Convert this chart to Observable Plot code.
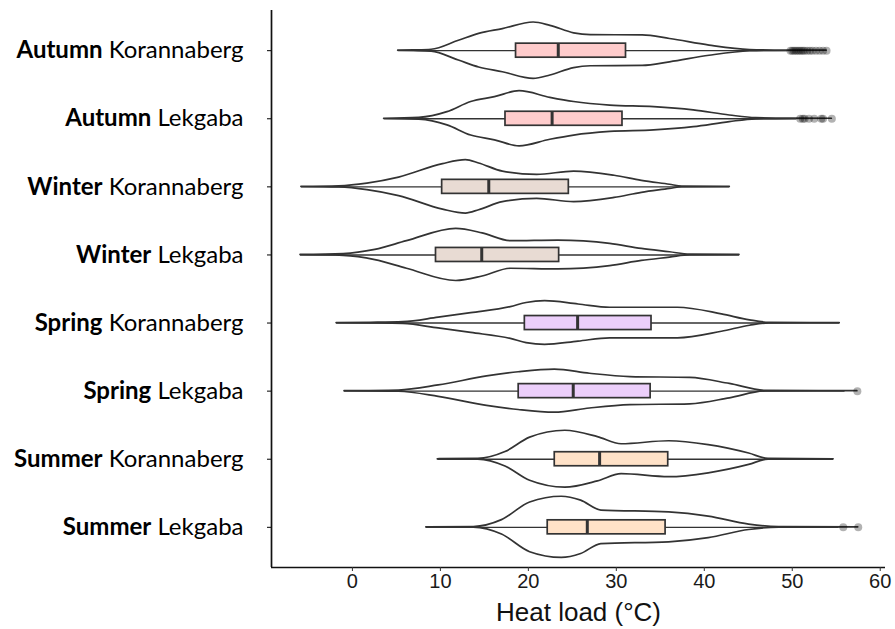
<!DOCTYPE html>
<html>
<head>
<meta charset="utf-8">
<script src="https://cdn.jsdelivr.net/npm/d3@7"></script>
<script src="https://cdn.jsdelivr.net/npm/@observablehq/plot@0.6"></script>
<style>
  html, body { margin: 0; padding: 0; background: #ffffff; }
  #chart svg { display: block; }
</style>
</head>
<body>
<div id="chart"></div>
<script>
// ---- Data ----
const seasons = ["Autumn", "Autumn", "Winter", "Winter", "Spring", "Spring", "Summer", "Summer"];
const sites = ["Korannaberg", "Lekgaba", "Korannaberg", "Lekgaba", "Korannaberg", "Lekgaba", "Korannaberg", "Lekgaba"];

const q1 =          [18.6, 17.4, 10.2,  9.5, 19.6, 18.9, 23.0, 22.2];
const medians =     [23.4, 22.7, 15.5, 14.7, 25.6, 25.1, 28.1, 26.7];
const q3 =          [31.1, 30.7, 24.6, 23.5, 34.0, 33.9, 35.9, 35.6];
const whiskerLow =  [ 5.2,  3.6, -5.8, -5.9, -1.8, -0.9,  9.7,  8.4];
const whiskerHigh = [49.5, 50.5, 42.9, 44.0, 55.4, 56.0, 54.7, 55.3];

const outliers = [
  [49.8, 50.0, 50.2, 50.4, 50.6, 50.8, 51.0, 51.2, 51.4, 51.7, 52.0, 52.3, 52.7, 53.1, 53.5, 53.9],
  [50.9, 51.2, 51.4, 51.9, 52.5, 53.3, 53.5, 54.5],
  [], [], [],
  [57.4],
  [],
  [55.8, 57.5]
];

// violin outlines: [heat load, relative half-width]
const violinAutumnKorannaberg = [[5.2,0],[7,0.01],[9,0.03],[12.1,0.33],[14.4,0.56],[17.1,0.72],[20.6,0.94],[22.5,0.83],[25.2,0.58],[27.1,0.52],[33,0.51],[36.1,0.39],[40.6,0.17],[45.2,0.02],[48,0.005],[53.9,0]];
const violinAutumnLekgaba = [[3.6,0],[7.6,0.03],[10.8,0.22],[13.5,0.56],[16.2,0.72],[19,0.92],[22.5,0.7],[25.2,0.56],[29.3,0.44],[34.3,0.39],[38.8,0.28],[42.9,0.11],[45.9,0.02],[50,0.003],[54.5,0]];
const violinWinterKorannaberg = [[-5.8,0],[-1.5,0.02],[1.7,0.11],[5.3,0.31],[10.3,0.76],[12.9,0.89],[14.4,0.78],[17.1,0.51],[21,0.4],[25.2,0.51],[29.8,0.37],[32.9,0.2],[36.1,0.07],[37.5,0.01],[42.9,0]];
const violinWinterLekgaba = [[-5.9,0],[-1,0.03],[2.6,0.17],[6.2,0.46],[11.8,0.87],[14.8,0.72],[18,0.46],[23.4,0.48],[29.3,0.37],[32.9,0.2],[36.1,0.09],[38.4,0.01],[44,0]];
const violinSpringKorannaberg = [[-1.8,0],[2.1,0.01],[5.8,0.03],[9.8,0.18],[13.5,0.33],[18,0.53],[19.8,0.67],[21.9,0.73],[25.7,0.62],[29.3,0.51],[37,0.51],[42,0.29],[45.2,0.09],[47.4,0.01],[55.4,0]];
const violinSpringLekgaba = [[-0.9,0],[5.3,0.02],[9.8,0.19],[15.3,0.49],[18.9,0.63],[23,0.72],[27,0.58],[31.6,0.47],[38.4,0.44],[42.9,0.24],[47,0.01],[57.4,0]];
const violinSummerKorannaberg = [[9.7,0],[14.3,0.01],[17.4,0.24],[20.2,0.72],[24.2,0.95],[27.9,0.74],[30.6,0.5],[36,0.6],[40.5,0.47],[45.1,0.19],[47.3,0.01],[54.7,0]];
const violinSummerLekgaba = [[8.4,0],[13.8,0.01],[17,0.24],[20.2,0.83],[23.8,1.02],[26,0.89],[28.3,0.56],[36,0.5],[40.5,0.36],[45.1,0.09],[48.5,0.01],[57.5,0]];

const violins = [violinAutumnKorannaberg, violinAutumnLekgaba, violinWinterKorannaberg, violinWinterLekgaba,
                 violinSpringKorannaberg, violinSpringLekgaba, violinSummerKorannaberg, violinSummerLekgaba];

const xTicks = [0, 10, 20, 30, 40, 50, 60];
const xLabel = "Heat load (°C)";
const seasonColors = {Autumn: "#FFCCCC", Winter: "#E8DBD3", Spring: "#ECCFFB", Summer: "#FFE2C8"};

// ---- Build tables ----
const rows = seasons.map((s, i) => ({
  i, season: s, site: sites[i],
  q1: q1[i], med: medians[i], q3: q3[i], lo: whiskerLow[i], hi: whiskerHigh[i]
}));
const violinData = violins.flatMap((pts, i) => pts.map(([v, w]) => ({i, v, w})));
const outlierData = outliers.flatMap((vals, i) => vals.map(v => ({i, v})));

const K = 0.44;       // violin half-width scale (row units)
const BOX = 0.103;    // box half-height (row units)
const XMIN = -9.2, XMAX = 60.6, YTOP = -0.59, YBOT = 7.59;
const ink = "#333333";

const plot = Plot.plot({
  width: 895,
  height: 629,
  marginLeft: 271,
  marginRight: 10,
  marginTop: 10,
  marginBottom: 62,
  style: {background: "#ffffff", fontFamily: "'Liberation Sans', Arial, sans-serif"},
  x: {domain: [XMIN, XMAX]},
  y: {domain: [YBOT, YTOP]},
  marks: [
    Plot.areaY(violinData, {
      x: "v", y1: d => d.i - d.w * K, y2: d => d.i + d.w * K, z: "i",
      curve: "monotone-x", fill: "#ffffff", stroke: ink, strokeWidth: 1.7
    }),
    Plot.ruleY(rows, {y: "i", x1: "lo", x2: "hi", stroke: ink, strokeWidth: 1.4}),
    Plot.rect(rows, {
      x1: "q1", x2: "q3", y1: d => d.i - BOX, y2: d => d.i + BOX,
      fill: d => seasonColors[d.season], stroke: ink, strokeWidth: 1.7
    }),
    Plot.ruleX(rows, {x: "med", y1: d => d.i - BOX, y2: d => d.i + BOX, stroke: ink, strokeWidth: 3}),
    Plot.dot(outlierData, {x: "v", y: "i", r: 4, fill: "#000000", fillOpacity: 0.3, stroke: "none"}),
    Plot.ruleX([XMIN], {stroke: "#111", strokeWidth: 1.7}),
    Plot.ruleY([YBOT], {stroke: "#111", strokeWidth: 1.7}),
    Plot.axisX({
      ticks: xTicks, tickSize: 4, tickPadding: 2, fontSize: 20, label: null,
      stroke: "#333", color: "#1a1a1a", tickFormat: d => String(d)
    }),
    Plot.axisY({
      ticks: d3.range(8), tickSize: 4, tickPadding: 24, label: null,
      tickFormat: i => seasons[i] + " " + sites[i]
    }),
    Plot.text([xLabel], {
      frameAnchor: "bottom", lineAnchor: "bottom", dy: 53, fontSize: 26, fill: "#111",
      fontFamily: "'Liberation Sans', Arial, sans-serif"
    })
  ]
});

document.getElementById("chart").appendChild(plot);

// Mixed-weight y tick labels: bold season + regular site
const svg = d3.select(plot);
svg.selectAll("g[aria-label='y-axis tick label'] text").each(function(d) {
  const t = d3.select(this);
  const idx = typeof d === "number" ? d : +d;
  t.text(null)
   .attr("font-family", "Lato, 'Open Sans', sans-serif")
   .attr("font-size", 24)
   .attr("fill", "#000");
  t.append("tspan").attr("font-weight", "bold").text(seasons[idx]);
  t.append("tspan").attr("font-weight", "normal").text(" " + sites[idx]);
});
</script>
</body>
</html>
